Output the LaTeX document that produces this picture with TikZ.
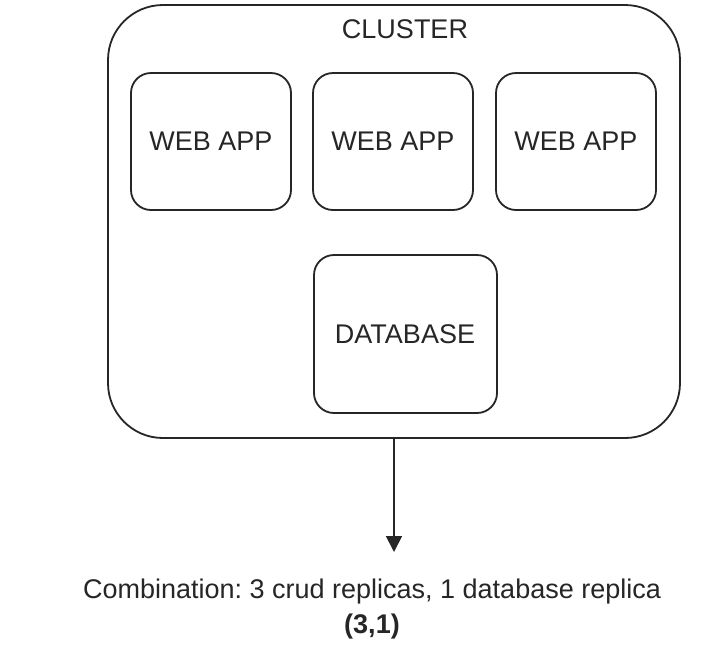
\documentclass[tikz,border=0pt]{standalone}
\usepackage{fontspec}
\setmainfont{Liberation Sans}
\usetikzlibrary{arrows.meta}
\frenchspacing
\begin{document}
\begin{tikzpicture}[x=1pt,y=-1pt,
  box/.style={draw=black!85,line width=1.8pt,rounded corners=20pt},
  lbl/.style={font=\fontsize{27}{32}\selectfont,text=black!85,inner sep=0pt},
  link/.style={draw=black!85,line width=1.8pt,-{Triangle[length=16pt,width=16pt]}}]
  \useasboundingbox[fill=white] (0,0) rectangle (720,665);
  % cluster
  \draw[box,rounded corners=55pt] (108,5) rectangle (680,438);
  \node[lbl] (cl) at (405,29) {CLUSTER};
  % web apps
  \draw[box] (131,73) rectangle (291,210);
  \node[lbl] (w1) at (211,141) {WEB APP};
  \draw[box] (313,73) rectangle (473,210);
  \node[lbl] (w2) at (393,141) {WEB APP};
  \draw[box] (496,73) rectangle (656,210);
  \node[lbl] (w3) at (576,141) {WEB APP};
  % database
  \draw[box] (314,255) rectangle (497,413);
  \node[lbl] (db) at (405,334) {DATABASE};
  % result
  \coordinate (src) at (394,438);
  \coordinate (dst) at (394,552);
  \draw[link] (src) -- (dst);
  \node[lbl] (comb) at (372,592) {Combination: 3 crud replicas, 1 database replica};
  \node[lbl,font=\fontsize{27}{32}\selectfont\bfseries] (pair) at (372,627) {(3,1)};
\end{tikzpicture}
\end{document}
